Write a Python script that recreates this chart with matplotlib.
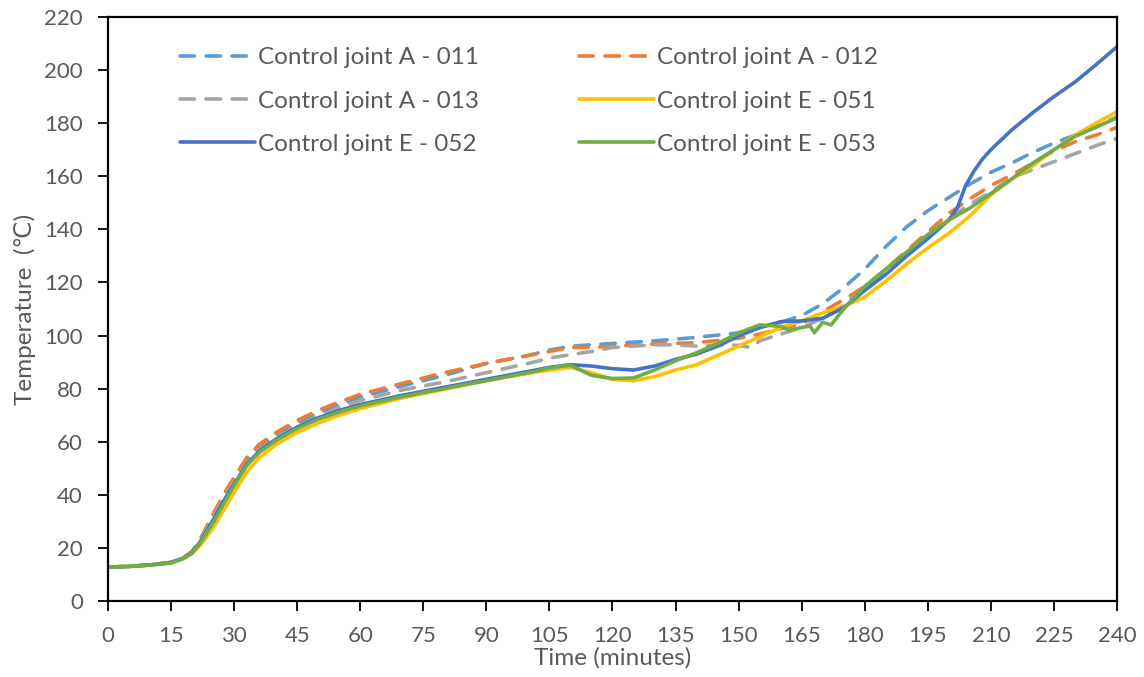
import matplotlib
matplotlib.use("Agg")
import matplotlib.pyplot as plt

plt.rcParams['font.family'] = ['Lato', 'DejaVu Sans']

# Time (minutes) and temperature readings for each control joint
t_a011 = [0, 5, 10, 15, 18, 20, 22, 25, 28, 30, 33, 36, 40, 45, 50, 55, 60, 70, 80, 90,
          100, 105, 110, 115, 120, 130, 140, 150, 155, 160, 165, 170, 175, 180, 185, 190,
          195, 200, 205, 210, 215, 220, 225, 230, 235, 240]
a011 = [12.8, 13.0, 13.6, 14.5, 16.3, 18.5, 23.0, 32.0, 40.5, 45.5, 53.0, 58.0, 62.5, 67.0,
        70.8, 74.0, 76.8, 81.0, 85.0, 89.5, 92.5, 94.5, 96.0, 96.5, 97.0, 98.0, 99.3, 101.0,
        103.0, 105.0, 107.5, 112.0, 118.0, 125.0, 133.5, 141.0, 147.0, 152.0, 157.0, 161.5,
        165.0, 169.0, 172.5, 175.5, 178.5, 182.4]

t_a012 = [0, 5, 10, 15, 18, 20, 22, 25, 28, 30, 33, 36, 40, 45, 50, 55, 60, 70, 80, 90,
          100, 105, 110, 115, 120, 130, 140, 150, 155, 160, 165, 170, 175, 180, 185, 190,
          195, 200, 205, 210, 215, 220, 225, 230, 235, 240]
a012 = [12.8, 13.0, 13.6, 14.5, 16.4, 18.7, 23.5, 32.8, 41.5, 46.5, 54.0, 59.0, 63.5, 68.0,
        71.8, 75.0, 77.8, 82.0, 86.0, 89.5, 92.5, 94.0, 95.5, 95.5, 96.0, 96.8, 97.3, 99.0,
        100.5, 102.5, 104.5, 109.0, 113.5, 118.5, 125.0, 132.0, 139.0, 146.0, 151.5, 156.5,
        160.5, 165.0, 169.5, 173.0, 175.5, 178.4]

t_a013 = [0, 5, 10, 15, 18, 20, 22, 25, 28, 30, 33, 36, 40, 45, 50, 55, 60, 70, 80, 90,
          100, 105, 110, 115, 120, 125, 130, 135, 140, 145, 150, 153, 155, 160, 165, 170,
          175, 180, 185, 190, 195, 200, 205, 210, 215, 220, 225, 230, 235, 240]
a013 = [12.8, 13.0, 13.6, 14.4, 16.2, 18.3, 23.0, 31.5, 40.0, 45.0, 52.0, 57.0, 61.5, 65.8,
        69.5, 73.0, 75.5, 79.5, 82.5, 86.0, 89.5, 91.5, 92.8, 94.0, 95.5, 96.0, 96.5, 96.5,
        96.0, 96.5, 96.3, 95.5, 98.0, 100.5, 103.0, 106.5, 111.5, 118.0, 124.0, 131.0,
        138.0, 144.0, 149.5, 154.0, 159.5, 162.5, 165.5, 168.5, 171.5, 174.3]

t_e051 = [0, 5, 10, 15, 18, 20, 22, 25, 28, 30, 33, 36, 40, 45, 50, 55, 60, 70, 80, 90,
          100, 105, 110, 115, 120, 125, 130, 135, 140, 145, 150, 155, 160, 165, 170, 175,
          180, 185, 190, 195, 200, 205, 210, 215, 220, 225, 230, 235, 240]
e051 = [12.8, 13.0, 13.6, 14.6, 16.2, 18.0, 21.0, 27.5, 35.5, 41.0, 48.5, 54.0, 59.0, 63.5,
        67.0, 70.0, 72.5, 76.5, 79.8, 83.0, 85.8, 87.0, 88.0, 86.0, 83.5, 83.0, 84.5, 87.0,
        89.0, 92.5, 96.0, 99.5, 103.0, 105.5, 108.5, 111.0, 114.5, 120.5, 127.0, 133.0,
        138.5, 145.0, 153.0, 159.0, 164.0, 170.0, 175.5, 180.0, 184.3]

t_e052 = [0, 5, 10, 15, 18, 20, 22, 25, 28, 30, 33, 36, 40, 45, 50, 55, 60, 70, 80, 90,
          100, 105, 110, 115, 120, 125, 130, 135, 140, 145, 150, 155, 160, 165, 170, 175,
          180, 185, 190, 195, 200, 202, 204, 206, 208, 210, 215, 220, 225, 230, 235, 240]
e052 = [12.8, 13.0, 13.6, 14.5, 16.2, 18.2, 22.5, 30.5, 39.0, 44.0, 51.5, 56.5, 61.0, 65.5,
        69.0, 71.8, 74.0, 77.5, 80.5, 83.5, 86.5, 88.0, 89.0, 88.5, 87.5, 87.0, 88.5, 91.0,
        93.0, 96.0, 99.8, 103.0, 105.2, 105.5, 106.5, 110.5, 117.0, 123.0, 130.0, 136.5,
        143.5, 148.0, 156.5, 162.0, 166.5, 170.0, 177.5, 184.0, 190.0, 195.5, 202.0, 208.8]

t_e053 = [0, 5, 10, 15, 18, 20, 22, 25, 28, 30, 33, 36, 40, 45, 50, 55, 60, 70, 80, 90,
          100, 105, 110, 115, 120, 125, 130, 135, 140, 145, 150, 155, 160, 162, 165, 167,
          168, 170, 172, 175, 180, 185, 190, 195, 200, 205, 210, 215, 220, 225, 230, 235, 240]
e053 = [12.8, 13.0, 13.5, 14.3, 16.0, 18.0, 22.0, 29.5, 38.0, 43.5, 51.0, 56.0, 60.5, 65.0,
        68.5, 71.2, 73.5, 77.0, 80.0, 83.0, 86.0, 87.8, 88.8, 85.0, 83.8, 84.0, 87.0, 90.5,
        93.5, 97.0, 101.0, 104.0, 103.5, 102.0, 103.0, 103.6, 101.0, 105.0, 104.0, 110.0,
        118.5, 125.0, 131.5, 138.0, 143.5, 148.0, 153.5, 159.0, 165.0, 170.0, 175.0, 178.5,
        182.0]

labels = ['Control joint A - 011', 'Control joint A - 012', 'Control joint A - 013',
          'Control joint E - 051', 'Control joint E - 052', 'Control joint E - 053']
colors = ['#5B9BD5', '#ED7D31', '#A5A5A5', '#FFC000', '#4472C4', '#70AD47']
styles = ['dashed', 'dashed', 'dashed', 'solid', 'solid', 'solid']
series = [(t_a011, a011), (t_a012, a012), (t_a013, a013),
          (t_e051, e051), (t_e052, e052), (t_e053, e053)]

x_ticks = list(range(0, 241, 15))
y_ticks = list(range(0, 221, 20))

text_color = '#595959'

fig = plt.figure(figsize=(11.44, 6.77), dpi=100)
ax = fig.add_axes([0.0944, 0.1123, 0.8820, 0.8626])

lines = []
for (t, v), lab, col, ls in zip(series, labels, colors, styles):
    if ls == 'dashed':
        ln, = ax.plot(t, v, color=col, lw=2.6, label=lab, dashes=(4.0, 3.2),
                      dash_capstyle='round', dash_joinstyle='round')
    else:
        ln, = ax.plot(t, v, color=col, lw=2.6, label=lab, solid_capstyle='round',
                      solid_joinstyle='round')
    lines.append(ln)

ax.set_xlim(0, 240)
ax.set_ylim(0, 220)
ax.set_xticks(x_ticks)
ax.set_yticks(y_ticks)
ax.tick_params(direction='out', length=7, width=1.3, colors='black',
               labelcolor=text_color, labelsize=16, pad=11)
for sp in ax.spines.values():
    sp.set_linewidth(1.6)
    sp.set_color('black')

ax.set_xlabel('Time (minutes)', fontsize=17.5, color=text_color, labelpad=1)
ax.set_ylabel('Temperature  (℃)', fontsize=17.5, color=text_color, labelpad=6)

# legend is filled column by column, so reorder to match the row layout
order = [0, 2, 4, 1, 3, 5]
leg = ax.legend([lines[i] for i in order], [labels[i] for i in order],
                ncol=2, loc='upper left', bbox_to_anchor=(0.0615, 0.965),
                frameon=False, fontsize=17.5, handlelength=3.1, handletextpad=0.12,
                columnspacing=4.1, labelspacing=0.92, borderaxespad=0)
for txt in leg.get_texts():
    txt.set_color(text_color)

fig.savefig('out.png', dpi=100)
